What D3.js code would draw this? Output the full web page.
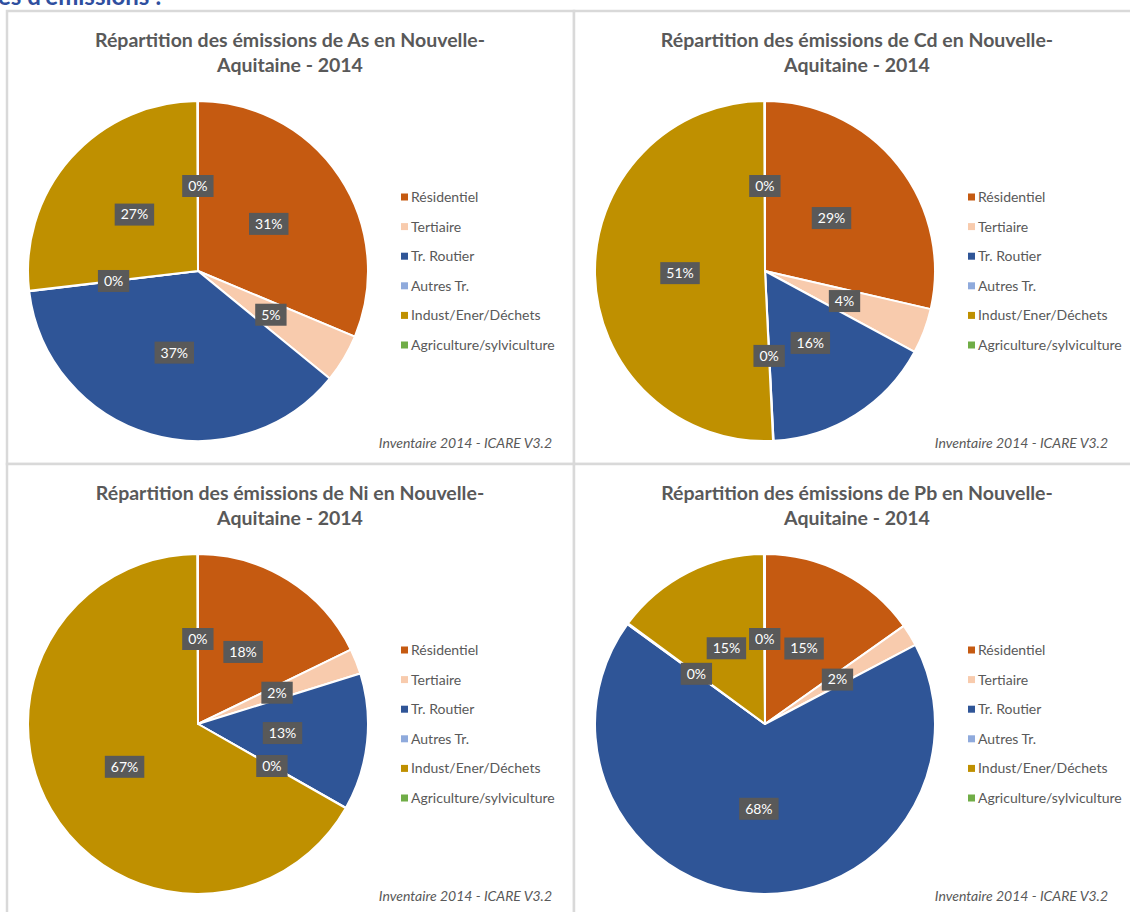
<!DOCTYPE html>
<html>
<head>
<meta charset="utf-8">
<script src="https://cdn.jsdelivr.net/npm/d3@7"></script>
<style>
  body { margin: 0; background: #fff; overflow: hidden; }
  svg { display: block; font-family: Lato, 'Open Sans', sans-serif; }
</style>
</head>
<body>
<svg id="chart" width="1130" height="912"></svg>
<script>
// sectors, in the order Excel draws them (clockwise from 12 o'clock)
const categories = ['Résidentiel', 'Tertiaire', 'Tr. Routier', 'Autres Tr.', 'Indust/Ener/Déchets', 'Agriculture/sylviculture']
const colors = ['#c55a11', '#f8cbad', '#2f5597', '#8faadc', '#bf9000', '#70ad47']

const pollutants = ['As', 'Cd', 'Ni', 'Pb']
// shares in %
const valuesAs = [31.3, 4.6, 37.2, 0.05, 26.8, 0.05]
const valuesCd = [28.6, 4.3, 16.3, 0.05, 50.7, 0.05]
const valuesNi = [17.8, 2.4, 13.0, 0.05, 66.7, 0.05]
const valuesPb = [15.2, 2.1, 67.7, 0.1, 14.8, 0.1]
const seriesValues = [valuesAs, valuesCd, valuesNi, valuesPb]

const footer = 'Inventaire 2014 - ICARE V3.2'

const svg = d3.select('#chart')
const grey = '#595959'

// heading of the page, cut at the top edge
svg.append('text')
  .attr('x', -2).attr('y', 5)
  .attr('font-size', 24).attr('font-weight', 'bold')
  .attr('fill', '#2f4f9f')
  .text('es d\u2019émissions :')

const panelW = 567, panelH = 453
const color = d3.scaleOrdinal().domain(categories).range(colors)
const pie = d3.pie().sort(null).value(d => d.v)
const radius = 170
const arc = d3.arc().innerRadius(0).outerRadius(radius)
const labelArc = d3.arc().innerRadius(radius / 2).outerRadius(radius / 2)
const legendY = d3.scalePoint().domain(categories).range([186, 334])
const fmt = d3.format('.0f')

pollutants.forEach((p, i) => {
  const col = i % 2
  const g = svg.append('g')
    .attr('transform', `translate(${7 + col * panelW},${11 + Math.floor(i / 2) * panelH})`)

  g.append('rect')
    .attr('x', 0).attr('y', 0)
    .attr('width', panelW).attr('height', panelH)
    .attr('fill', '#fff')
    .attr('stroke', '#d9d9d9').attr('stroke-width', 2.5)

  const title = g.append('text')
    .attr('text-anchor', 'middle')
    .attr('font-size', 19.5).attr('font-weight', 'bold')
    .attr('fill', grey)
  title.append('tspan').attr('x', 283).attr('y', 36)
    .text(`Répartition des émissions de ${p} en Nouvelle-`)
  title.append('tspan').attr('x', 283).attr('y', 61)
    .text('Aquitaine - 2014')

  const data = categories.map((c, k) => ({ c, v: seriesValues[i][k] }))
  const arcs = pie(data)

  const pieG = g.append('g').attr('transform', 'translate(191,260)')
  pieG.selectAll('path')
    .data(arcs)
    .join('path')
    .attr('d', arc)
    .attr('fill', d => color(d.data.c))
    .attr('stroke', '#fff').attr('stroke-width', 2)
    .attr('stroke-linejoin', 'round')

  const labels = pieG.selectAll('g.lbl')
    .data(arcs)
    .join('g')
    .attr('class', 'lbl')
    .attr('transform', d => `translate(${labelArc.centroid(d)})`)
  const lt = labels.append('text')
    .attr('text-anchor', 'middle')
    .attr('dy', '0.35em')
    .attr('font-size', 14)
    .attr('fill', '#fff')
    .text(d => fmt(d.data.v) + '%')
  lt.each(function () {
    const w = this.getComputedTextLength() + 12
    d3.select(this.parentNode).insert('rect', 'text')
      .attr('x', -w / 2).attr('y', -11)
      .attr('width', w).attr('height', 22)
      .attr('fill', grey)
  })

  const legend = g.selectAll('g.leg')
    .data(categories)
    .join('g')
    .attr('class', 'leg')
    .attr('transform', d => `translate(394,${legendY(d)})`)
  legend.append('rect')
    .attr('x', 0).attr('y', -3.5)
    .attr('width', 7).attr('height', 7)
    .attr('fill', d => color(d))
  legend.append('text')
    .attr('x', 10).attr('dy', '0.35em')
    .attr('font-size', 14)
    .attr('fill', grey)
    .text(d => d)

  g.append('text')
    .attr('x', col ? 534 : 545).attr('y', 437)
    .attr('text-anchor', 'end')
    .attr('font-size', 14).attr('font-style', 'italic')
    .attr('fill', grey)
    .text(footer)
})
</script>
</body>
</html>
